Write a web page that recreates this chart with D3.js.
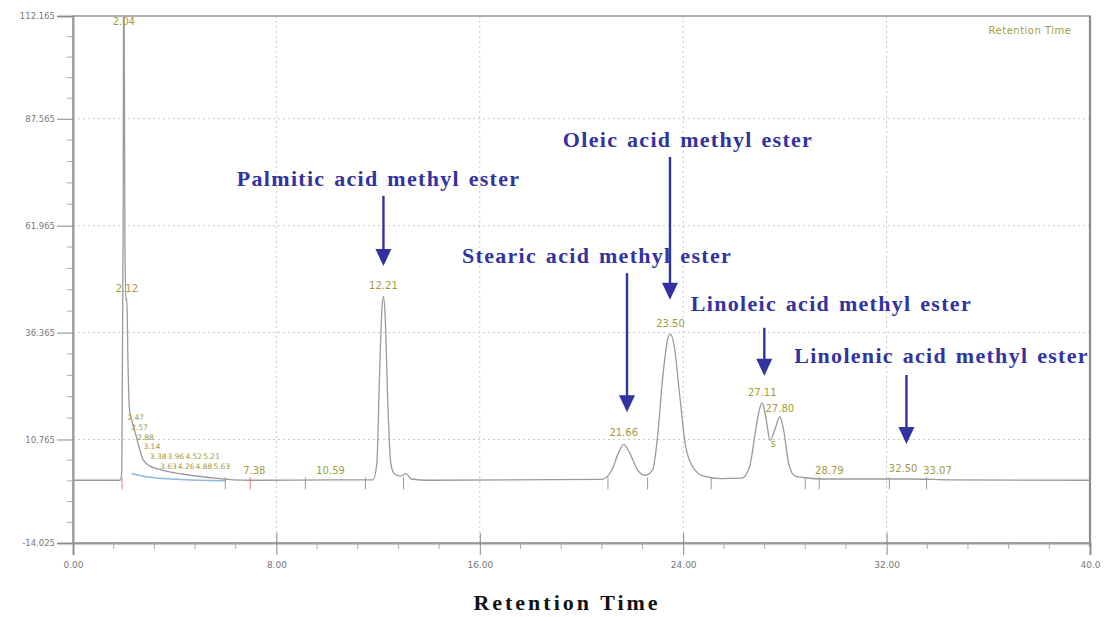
<!DOCTYPE html>
<html>
<head>
<meta charset="utf-8">
<script src="https://cdn.jsdelivr.net/npm/d3@7"></script>
<style>
  body { margin: 0; background: #fff; }
  svg { display: block; }
</style>
</head>
<body>
<svg id="chart" width="1106" height="617"></svg>
<script>
// chromatogram trace (minutes, signal)
const traceTime = [0, 1.85, 1.92, 1.97, 2.00, 2.04, 2.08, 2.12, 2.16, 2.22, 2.30, 2.40, 2.55, 2.75, 3.0, 3.4, 3.8, 4.3, 5.0, 5.6, 6.3, 7.0,
  10.5, 11.8, 11.95, 12.05, 12.15, 12.21, 12.28, 12.38, 12.5, 12.65, 12.9, 13.1, 13.3, 14.0,
  20.8, 21.2, 21.45, 21.66, 21.9, 22.2, 22.5, 22.8, 23.0, 23.2, 23.4, 23.5, 23.65, 23.85, 24.1, 24.4, 24.8, 25.5,
  26.3, 26.6, 26.85, 27.0, 27.11, 27.25, 27.42, 27.6, 27.8, 27.95, 28.15, 28.4, 28.8, 29.5, 33.0, 34.5, 40.0]
const traceSignal = [1.0, 1.0, 3, 60, 135, 60, 44, 44.5, 30, 18, 15.5, 13.5, 10, 6, 4.5, 3.6, 3.0, 2.5, 1.9, 1.5, 1.1, 1.0,
  1.1, 1.1, 5, 25, 42, 45, 40, 20, 5, 2.5, 2.0, 2.6, 1.3, 1.0,
  1.2, 3.5, 7.5, 9.6, 7.5, 3.5, 2.2, 3.5, 12, 26, 35, 36, 33, 22, 9, 4, 2.0, 1.4,
  1.5, 4, 13, 18, 19.5, 16, 10.5, 13, 16.2, 13, 5, 2, 1.6, 1.3, 1.3, 1.1, 1.0]

// fitted baseline under the solvent tail
const tailTime = [2.3, 2.8, 3.4, 4.2, 5.0, 6.0]
const tailSignal = [2.6, 1.9, 1.5, 1.2, 1.0, 0.9]

// peak labels (main peaks)
const peakTimes = [2.00, 2.12, 7.13, 10.13, 12.21, 21.66, 23.50, 27.11, 27.80, 27.55, 29.75, 32.65, 34.0]
const peakValues = [110, 46, 2.4, 2.4, 46.8, 11.5, 37.8, 21.2, 17.3, 9, 2.5, 3.0, 2.5]
const peakLabels = ['2.04', '2.12', '7.38', '10.59', '12.21', '21.66', '23.50', '27.11', '27.80', 's', '28.79', '32.50', '33.07']

// crowded labels on the solvent tail
const tailLabelTimes = [2.47, 2.62, 2.85, 3.1, 3.35, 4.05, 4.75, 5.45, 3.75, 4.45, 5.15, 5.85]
const tailLabelValues = [15.5, 13.1, 10.7, 8.4, 6.1, 6.1, 6.1, 6.1, 3.7, 3.7, 3.7, 3.7]
const tailLabels = ['2.47', '2.57', '2.88', '3.14', '3.38', '3.96', '4.52', '5.21', '3.63', '4.26', '4.88', '5.63']

// integration start/stop marks
const eventTimes = [1.93, 5.99, 6.97, 9.14, 11.5, 13.0, 21.04, 22.6, 25.1, 28.8, 29.35, 32.11, 33.57]

const xTicks = [0, 8, 16, 24, 32, 40]
const xTickLabels = ['0.00', '8.00', '16.00', '24.00', '32.00', '40.0']
const yTicks = [-14.025, 10.765, 36.365, 61.965, 87.565, 112.165]
const yTickLabels = ['-14.025', '10.765', '36.365', '61.965', '87.565', '112.165']

// ester annotations
const esterNames = ['Palmitic acid methyl ester', 'Oleic acid methyl ester', 'Stearic acid methyl ester', 'Linoleic acid methyl ester', 'Linolenic acid methyl ester']
const esterTextTime = [12.02, 24.19, 20.61, 29.83, 34.16]
const esterTextValue = [71.7, 81.0, 53.3, 41.8, 29.3]
const esterArrowTime = [12.21, 23.48, 21.79, 27.19, 32.78]
const esterArrowTop = [69.1, 78.4, 50.6, 37.5, 26.2]
const esterArrowTip = [52.3, 44.2, 17.3, 26.0, 9.7]

const svg = d3.select('#chart')
const plotLeft = 73, plotRight = 1090, plotTop = 16, plotBottom = 543

const x = d3.scaleLinear().domain([0, 40]).range([plotLeft, plotRight])
const y = d3.scaleLinear().domain([-14.025, 112.165]).range([plotBottom, plotTop])

const olive = '#a39b3b'
const blue = '#3232a0'

// grid
svg.append('g')
  .selectAll('line')
  .data(yTicks.slice(1, -1))
  .join('line')
  .attr('x1', plotLeft).attr('x2', plotRight)
  .attr('y1', d => y(d)).attr('y2', d => y(d))
  .attr('stroke', '#c8c8c8')
  .attr('stroke-dasharray', '2,3')

svg.append('g')
  .selectAll('line')
  .data(xTicks.slice(1, -1))
  .join('line')
  .attr('x1', d => x(d)).attr('x2', d => x(d))
  .attr('y1', plotTop).attr('y2', plotBottom)
  .attr('stroke', '#c8c8c8')
  .attr('stroke-dasharray', '2,3')

// frame
svg.append('rect')
  .attr('x', plotLeft).attr('y', plotTop)
  .attr('width', plotRight - plotLeft).attr('height', plotBottom - plotTop)
  .attr('fill', 'none')
  .attr('stroke', '#a8a8a8')
  .attr('stroke-width', 1.8)
svg.append('line')
  .attr('x1', plotRight).attr('x2', plotRight)
  .attr('y1', plotTop).attr('y2', plotBottom + 4)
  .attr('stroke', '#8a8a8a')
  .attr('stroke-width', 2.2)

// axes
const xMinor = []
for (let i = 0; i < xTicks.length - 1; i++) {
  const step = (xTicks[i + 1] - xTicks[i]) / 5
  for (let k = 1; k < 5; k++) xMinor.push(xTicks[i] + k * step)
}
const yMinor = []
for (let i = 0; i < yTicks.length - 1; i++) {
  const step = (yTicks[i + 1] - yTicks[i]) / 5
  for (let k = 1; k < 5; k++) yMinor.push(yTicks[i] + k * step)
}

const xAxis = svg.append('g')
  .attr('transform', `translate(0,${plotBottom})`)
  .call(d3.axisBottom(x).tickValues(xTicks).tickSize(12).tickPadding(7)
    .tickFormat((d, i) => xTickLabels[i]))
xAxis.select('.domain').attr('stroke', '#999').attr('stroke-width', 2)
xAxis.selectAll('.tick line').attr('stroke', '#888').attr('y1', -10)
xAxis.selectAll('.tick text')
  .attr('fill', '#777').style('font-family', 'DejaVu Sans, sans-serif').style('font-size', '9px')
svg.append('g')
  .selectAll('line')
  .data(xMinor)
  .join('line')
  .attr('x1', d => x(d)).attr('x2', d => x(d))
  .attr('y1', plotBottom).attr('y2', plotBottom + 6)
  .attr('stroke', '#aaa')

const yAxis = svg.append('g')
  .attr('transform', `translate(${plotLeft},0)`)
  .call(d3.axisLeft(y).tickValues(yTicks).tickSize(16).tickPadding(2)
    .tickFormat((d, i) => yTickLabels[i]))
yAxis.select('.domain').attr('stroke', '#999').attr('stroke-width', 2)
yAxis.selectAll('.tick line').attr('stroke', '#888')
yAxis.selectAll('.tick text')
  .attr('fill', '#777').style('font-family', 'DejaVu Sans, sans-serif').style('font-size', '8.5px')
svg.append('g')
  .selectAll('line')
  .data(yMinor)
  .join('line')
  .attr('x1', plotLeft - 6).attr('x2', plotLeft)
  .attr('y1', d => y(d)).attr('y2', d => y(d))
  .attr('stroke', '#aaa')

// trace
svg.append('clipPath').attr('id', 'plot-clip')
  .append('rect')
  .attr('x', plotLeft).attr('y', plotTop + 1)
  .attr('width', plotRight - plotLeft).attr('height', plotBottom - plotTop)

const line = d3.line()
  .x(d => x(d[0]))
  .y(d => y(d[1]))
  .curve(d3.curveMonotoneX)

svg.append('path')
  .datum(tailTime.map((t, i) => [t, tailSignal[i]]))
  .attr('d', line)
  .attr('fill', 'none')
  .attr('stroke', '#8fb6e0')
  .attr('stroke-width', 1.5)

svg.append('path')
  .datum(traceTime.map((t, i) => [t, traceSignal[i]]))
  .attr('clip-path', 'url(#plot-clip)')
  .attr('d', line)
  .attr('fill', 'none')
  .attr('stroke', '#9a9a9a')
  .attr('stroke-width', 1.3)

// integration marks
svg.append('g')
  .selectAll('line')
  .data(eventTimes)
  .join('line')
  .attr('x1', d => x(d)).attr('x2', d => x(d))
  .attr('y1', y(1) - 3).attr('y2', y(1) + 9)
  .attr('stroke', (d, i) => i < 3 ? '#d88080' : '#999')
  .attr('stroke-width', 1)

// peak labels
svg.append('g')
  .selectAll('text')
  .data(peakLabels)
  .join('text')
  .attr('x', (d, i) => x(peakTimes[i]))
  .attr('y', (d, i) => y(peakValues[i]))
  .attr('text-anchor', 'middle')
  .attr('fill', olive)
  .style('font-family', 'DejaVu Sans, sans-serif')
  .style('font-size', '10px')
  .text(d => d)

svg.append('g')
  .selectAll('text')
  .data(tailLabels)
  .join('text')
  .attr('x', (d, i) => x(tailLabelTimes[i]))
  .attr('y', (d, i) => y(tailLabelValues[i]))
  .attr('text-anchor', 'middle')
  .attr('fill', olive)
  .style('font-family', 'DejaVu Sans, sans-serif')
  .style('font-size', '7.5px')
  .text(d => d)

svg.append('text')
  .attr('x', 1030).attr('y', 34)
  .attr('text-anchor', 'middle')
  .attr('fill', olive)
  .style('font-family', 'DejaVu Sans, sans-serif')
  .style('font-size', '10px')
  .style('letter-spacing', '0.5px')
  .text('Retention Time')

// ester annotations
const notes = svg.append('g')
esterNames.forEach((name, i) => {
  const ax = x(esterArrowTime[i])
  const tipY = y(esterArrowTip[i])
  notes.append('line')
    .attr('x1', ax).attr('x2', ax)
    .attr('y1', y(esterArrowTop[i])).attr('y2', tipY - 10)
    .attr('stroke', blue)
    .attr('stroke-width', 2.4)
  notes.append('path')
    .attr('d', `M${ax - 8},${tipY - 17}L${ax + 8},${tipY - 17}L${ax},${tipY}Z`)
    .attr('fill', blue)
  notes.append('text')
    .attr('x', x(esterTextTime[i]))
    .attr('y', y(esterTextValue[i]) + 1)
    .attr('text-anchor', 'middle')
    .attr('fill', blue)
    .style('font-family', 'Liberation Serif, serif')
    .style('font-weight', 'bold')
    .style('font-size', '22px')
    .style('letter-spacing', '1.3px')
    .style('word-spacing', '2px')
    .text(name)
})

// axis title
svg.append('text')
  .attr('x', 567).attr('y', 610)
  .attr('text-anchor', 'middle')
  .attr('fill', '#111')
  .style('font-family', 'Liberation Serif, serif')
  .style('font-weight', 'bold')
  .style('font-size', '22px')
  .style('letter-spacing', '3px')
  .text('Retention Time')
</script>
</body>
</html>
